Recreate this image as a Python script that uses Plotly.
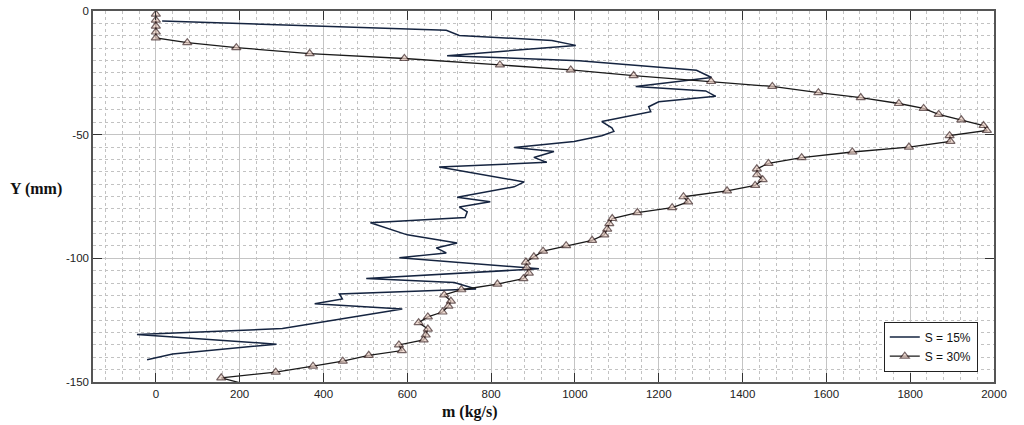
"""Mass flow profile chart: m (kg/s) against Y (mm) for two S values."""

import plotly.graph_objects as go

# S = 15% profile (m in kg/s, Y in mm)
s15_m = [15, 693, 724, 945, 1002, 695, 1010, 1250, 1290, 1326, 1145, 1312, 1336,
         1200, 1176, 1181, 1064, 1088, 1093, 1064, 998, 855, 950, 902, 933, 676,
         879, 855, 719, 798, 724, 743, 738, 512, 600, 719, 669, 693, 581, 914,
         502, 712, 764, 438, 445, 379, 588, 302, -45, 288, 40, -21]
s15_y = [-4, -7.8, -9.9, -11.9, -13.9, -18.1, -20.1, -23.5, -24.0, -26.9, -30.5,
         -32.3, -34.5, -36.7, -38.7, -40.7, -44.7, -47.2, -48.7, -50.4, -52.8,
         -55.2, -56.8, -59.2, -61.2, -63.1, -69.1, -71.1, -75.3, -77.1, -79.2,
         -81.2, -83.5, -85.6, -90.5, -93.8, -95.8, -97.8, -99.8, -104.2, -108.2,
         -109.8, -112.4, -114.4, -116.4, -118.4, -120.5, -128.4, -130.8, -134.7,
         -138.7, -141]

# S = 30% profile
s30_m = [0, 0, 0, 0, 0, 75, 192, 367, 593, 821, 990, 1140, 1325, 1471, 1581,
         1682, 1773, 1832, 1868, 1922, 1975, 1983, 1894, 1896, 1797, 1662, 1541,
         1462, 1434, 1435, 1448, 1430, 1363, 1259, 1270, 1232, 1149, 1089, 1082,
         1077, 1070, 1041, 979, 924, 902, 883, 885, 890, 877, 815, 729, 688, 704,
         698, 684, 649, 627, 649, 644, 639, 580, 587, 508, 446, 375, 286, 156, 200]
s30_y = [-1.3, -3.7, -6.1, -8.5, -10.9, -12.8, -14.8, -17.2, -19.2, -21.8, -23.8,
         -26.1, -28.5, -30.5, -33, -35, -37.4, -39.4, -41.8, -44, -46.3, -48.3,
         -50.4, -52.7, -55, -57, -59.3, -61.6, -63.8, -66.2, -68.2, -70.5, -72.7,
         -75.1, -77.2, -79.5, -81.5, -83.9, -86, -88.2, -90.5, -92.7, -94.9, -97.1,
         -99.4, -101.5, -103.8, -106, -108.2, -110.4, -112.7, -114.8, -117.3,
         -119.3, -121.7, -123.7, -126, -128.6, -131, -133, -135, -137.3, -139.2,
         -141.6, -143.6, -146, -148.3, -150.3]

y_ticks = [0, -50, -100, -150]
y_tick_text = ["0", "-50", "-100", "-150"]

TICK_FONT = {"family": "Liberation Sans, Arial, sans-serif", "size": 11.5, "color": "#222"}
LABEL_FONT = {"family": "Liberation Serif, Times New Roman, serif", "size": 16, "color": "#111"}

fig = go.Figure()
fig.add_trace(go.Scatter(
    x=s15_m, y=s15_y, mode="lines", name="S = 15%",
    line={"color": "#152440", "width": 1.5},
))
# last point sits on the axis edge, no marker drawn there
sizes = [8] * (len(s30_m) - 1) + [0]
fig.add_trace(go.Scatter(
    x=s30_m, y=s30_y, mode="lines+markers", name="S = 30%",
    line={"color": "#1a1a1a", "width": 1.3},
    marker={"symbol": "triangle-up", "size": sizes, "color": "#ecd0c4",
            "line": {"color": "#3a2222", "width": 1.2}},
))

axis_common = dict(
    showline=True, linecolor="#555", linewidth=1.5, mirror="allticks",
    ticks="inside", ticklen=9, tickwidth=1.3, tickcolor="#333",
    showgrid=True, gridcolor="#c4c4c4", gridwidth=1,
    zeroline=False, tickfont=TICK_FONT,
)

fig.update_xaxes(
    range=[-150, 2000], dtick=200, tick0=0,
    minor={"dtick": 40, "tick0": 0, "showgrid": True, "gridcolor": "#c2c2c2",
           "griddash": "dot", "ticks": ""},
    **axis_common,
)
fig.update_yaxes(
    range=[-150, 0], tickmode="array", tickvals=y_ticks, ticktext=y_tick_text,
    minor={"dtick": 5, "tick0": 0, "showgrid": True, "gridcolor": "#c2c2c2",
           "griddash": "dot", "ticks": ""},
    **axis_common,
)

fig.add_annotation(text="<b>Y (mm)</b>", xref="paper", yref="y", x=-0.063, y=-72,
                   showarrow=False, font=LABEL_FONT, xanchor="center", yanchor="middle")
fig.add_annotation(text="<b>m (kg/s)</b>", xref="x", yref="paper", x=750, y=-0.082,
                   showarrow=False, font=LABEL_FONT, xanchor="center", yanchor="middle")

fig.update_layout(
    width=1024, height=425,
    margin={"l": 93, "r": 30, "t": 5, "b": 43},
    paper_bgcolor="white", plot_bgcolor="white",
    legend={"x": 0.982, "y": 0.028, "xanchor": "right", "yanchor": "bottom",
            "bgcolor": "white", "bordercolor": "#222", "borderwidth": 1,
            "font": {"family": "Liberation Sans, Arial, sans-serif", "size": 12,
                     "color": "#111"},
            "tracegroupgap": 0},
)

# the page body has a default 8px margin; drop it so the figure sits at 0,0
fig.write_html("out.html", config={"displayModeBar": False},
               post_script="document.body.style.margin='0';")
